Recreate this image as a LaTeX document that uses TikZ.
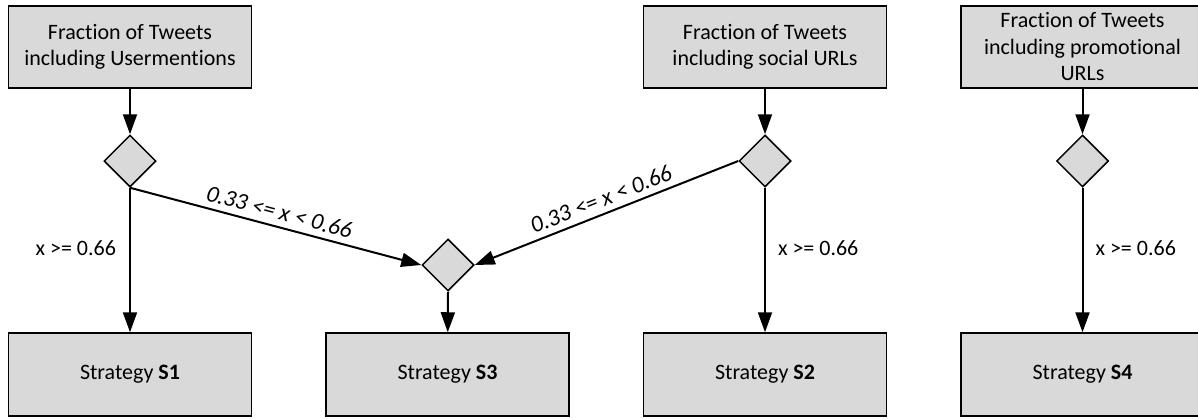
\documentclass[tikz,border=0pt]{standalone}
\usepackage{fontspec}
\setmainfont{Carlito}[Ligatures=NoCommon]
\usetikzlibrary{shapes.geometric,arrows.meta}
\definecolor{boxgray}{HTML}{D9D9D9}
\begin{document}
\begin{tikzpicture}[x=1pt,y=-1pt,
 box/.style={draw, line width=1.5pt, fill=boxgray, minimum width=243pt, minimum height=82pt, inner sep=0pt, align=center, font=\fontsize{22}{26.5}\selectfont},
 dec/.style={diamond, draw, line width=1.5pt, fill=boxgray, minimum width=52pt, minimum height=52pt, inner sep=0pt, aspect=1},
 arr/.style={line width=2pt, -{Triangle[length=20pt,width=14pt]}},
 arrback/.style={line width=2pt, {Triangle[length=20pt,width=14pt]}-},
 lbl/.style={font=\fontsize{22}{24}\selectfont, inner sep=0pt},
 slbl/.style={font=\fontsize{23.5}{24}\selectfont\itshape, inner sep=0pt, sloped}]
\useasboundingbox (0,0) rectangle (1198,418);
\clip (0,0) rectangle (1198,418);

\node[box] (f1) at (130,47) {Fraction of Tweets\\including Usermentions};
\node[box] (f2) at (765,47) {Fraction of Tweets\\including social URLs};
\node[box] (f3) at (1082.5,47) {Fraction of Tweets\\including promotional\\URLs};

\node[dec] (d1) at (130,161) {};
\node[dec] (d2) at (765,161) {};
\node[dec] (d3) at (448,265) {};
\node[dec] (d4) at (1082.5,161) {};

\node[box, minimum height=83pt] (s1) at (130,374.5) {Strategy \textbf{S1}};
\node[box, minimum height=83pt] (s3) at (447.5,374.5) {Strategy \textbf{S3}};
\node[box, minimum height=83pt] (s2) at (765,374.5) {Strategy \textbf{S2}};
\node[box, minimum height=83pt] (s4) at (1082.5,374.5) {Strategy \textbf{S4}};

\draw[arr] (f1) -- (d1);
\draw[arr] (f2) -- (d2);
\draw[arr] (f3) -- (d4);

\draw[arr] (d1.south) -- node[lbl, pos=0.42, left=13pt] {x >= 0.66} (s1);
\draw[arr] (d2.south) -- node[lbl, pos=0.42, right=12pt] {x >= 0.66} (s2);
\draw[arr] (d4.south) -- node[lbl, pos=0.42, right=12pt] {x >= 0.66} (s4);
\draw[arr] (d3.south) -- (s3);

\draw[arr] (d1.south) -- node[slbl, pos=0.5, above=6pt] {0.33 <= x < 0.66} (d3.west);
\draw[arrback] (d3.east) -- node[slbl, pos=0.5, above=6pt] {0.33 <= x < 0.66} (d2.west);
\end{tikzpicture}
\end{document}
